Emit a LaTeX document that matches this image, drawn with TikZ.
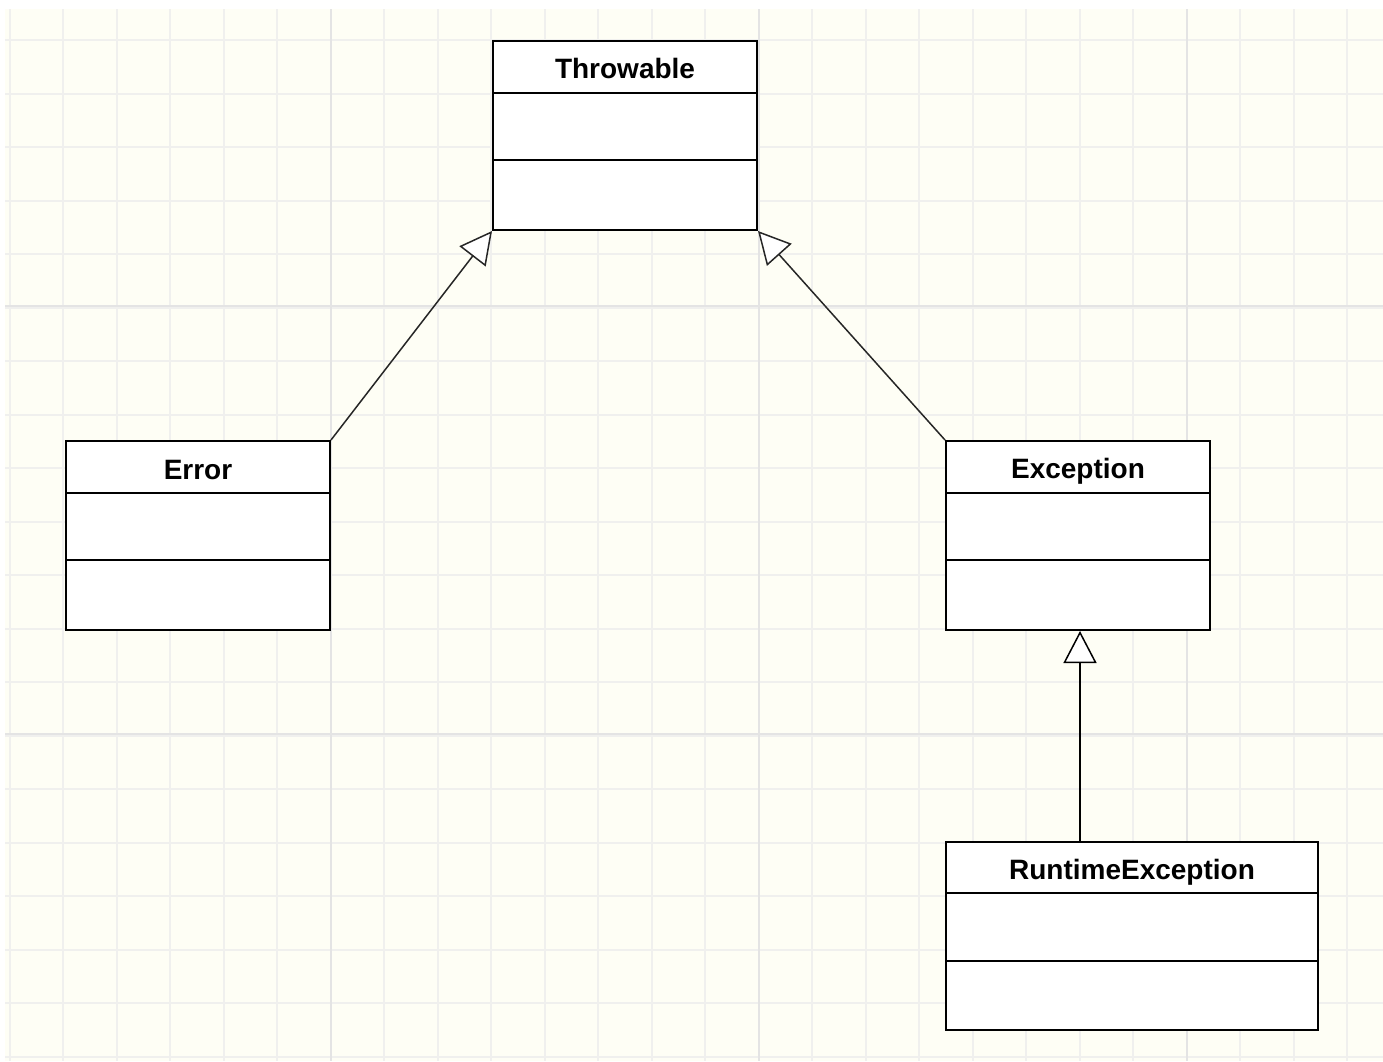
\documentclass[tikz,border=0pt]{standalone}
\usepackage{fontspec}
\setmainfont{Liberation Sans}
\usetikzlibrary{arrows.meta}
\definecolor{paper}{RGB}{254,254,245}
\definecolor{gridminor}{RGB}{240,240,238}
\definecolor{gridmajor}{RGB}{228,228,228}
\tikzset{
  classbox/.style={draw=black, line width=2pt, fill=white, inner sep=0pt, anchor=north west},
  classtitle/.style={font=\fontsize{28}{34}\selectfont\bfseries, inner sep=0pt, anchor=base},
  sepline/.style={line width=2pt, draw=black},
  gridline/.style={line width=2pt, draw=gridminor},
  gridbold/.style={line width=2pt, draw=gridmajor},
  inherit/.style={line width=1.5pt, draw=black!85,
    -{Triangle[length=32pt, width=33pt, fill=white, line width=1.5pt]}},
}
\begin{document}
\begin{tikzpicture}[x=1pt,y=-1pt]
\useasboundingbox (0,0) rectangle (1383,1061);
\fill[white] (0,0) rectangle (1383,1061);
\fill[paper] (5,9) rectangle (1383,1061);
% grid
\foreach \k in {0,...,25} {
  \pgfmathsetmacro\xx{10+53.48*\k}
  \draw[gridline] (\xx,9) -- (\xx,1061);
}
\foreach \k in {0,...,19} {
  \pgfmathsetmacro\yy{40+53.52*\k}
  \draw[gridline] (5,\yy) -- (1383,\yy);
}
\foreach \k in {6,14,22} {
  \pgfmathsetmacro\xx{10+53.48*\k}
  \draw[gridbold] (\xx,9) -- (\xx,1061);
}
\foreach \k in {5,13} {
  \pgfmathsetmacro\yy{38+53.52*\k}
  \draw[gridbold] (5,\yy) -- (1383,\yy);
}
% classes
\node[classbox, minimum width=264, minimum height=189] (throw) at (492,40) {};
\draw[sepline] ([yshift=-52.5]throw.north west) -- ([yshift=-52.5]throw.north east);
\draw[sepline] ([yshift=-119.5]throw.north west) -- ([yshift=-119.5]throw.north east);
\node[classtitle] (throwT) at ([yshift=-38]throw.north) {Throwable};

\node[classbox, minimum width=264, minimum height=189] (error) at (65,440) {};
\draw[sepline] ([yshift=-52.5]error.north west) -- ([yshift=-52.5]error.north east);
\draw[sepline] ([yshift=-120]error.north west) -- ([yshift=-120]error.north east);
\node[classtitle] (errorT) at ([yshift=-39]error.north) {Error};

\node[classbox, minimum width=264, minimum height=189] (exception) at (945,440) {};
\draw[sepline] ([yshift=-52.5]exception.north west) -- ([yshift=-52.5]exception.north east);
\draw[sepline] ([yshift=-120]exception.north west) -- ([yshift=-120]exception.north east);
\node[classtitle] (exceptionT) at ([yshift=-38]exception.north) {Exception};

\node[classbox, minimum width=372, minimum height=188] (runtime) at (945,841) {};
\draw[sepline] ([yshift=-52]runtime.north west) -- ([yshift=-52]runtime.north east);
\draw[sepline] ([yshift=-120]runtime.north west) -- ([yshift=-120]runtime.north east);
\node[classtitle] (runtimeT) at ([yshift=-38]runtime.north) {RuntimeException};

% inheritance
\draw[inherit] (error.north east) -- (throw.south west);
\draw[inherit] (exception.north west) -- (throw.south east);
\draw[inherit, draw=black] ([xshift=2]runtime.north -| exception.south) -- ([xshift=2]exception.south);
\end{tikzpicture}
\end{document}
